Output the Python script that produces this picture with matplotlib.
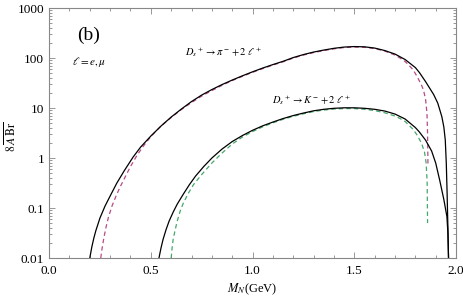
import numpy as np
import matplotlib
matplotlib.use('Agg')
import matplotlib.pyplot as plt
from matplotlib.ticker import MultipleLocator, LogLocator, FixedLocator, FixedFormatter, NullFormatter

plt.rcParams['font.family'] = ['Liberation Serif', 'DejaVu Serif']
plt.rcParams['mathtext.fontset'] = 'stix'

# D_s+ -> pi- + 2 l+, electron (solid); values as log10
m_pi_e = [0.20, 0.21, 0.22, 0.23, 0.25, 0.275, 0.30, 0.333, 0.37, 0.413, 0.45, 0.50, 0.55, 0.60,
          0.65, 0.70, 0.75, 0.80, 0.85, 0.90, 0.95, 1.00, 1.05, 1.10, 1.15, 1.20, 1.25, 1.30,
          1.35, 1.40, 1.45, 1.50, 1.55, 1.60, 1.65, 1.70, 1.75, 1.80, 1.82, 1.85, 1.87, 1.89,
          1.91, 1.93, 1.94, 1.947, 1.952, 1.956, 1.96, 1.963]
lg_pi_e = [-2.0, -1.78, -1.60, -1.45, -1.20, -0.96, -0.76, -0.50, -0.25, 0.02, 0.22, 0.44, 0.64, 0.82,
           0.98, 1.13, 1.26, 1.37, 1.47, 1.56, 1.645, 1.725, 1.80, 1.87, 1.935, 2.01, 2.07, 2.12,
           2.16, 2.195, 2.22, 2.23, 2.225, 2.20, 2.15, 2.08, 1.97, 1.81, 1.71, 1.53, 1.40, 1.27,
           1.10, 0.83, 0.62, 0.36, -0.1, -0.7, -1.4, -2.0]

# D_s+ -> pi- + 2 l+, muon (dashed)
m_pi_mu = [0.254, 0.26, 0.27, 0.28, 0.292, 0.31, 0.33, 0.35, 0.375, 0.40, 0.43, 0.46, 0.50, 0.55,
           0.60, 0.65, 0.70, 0.75, 0.80, 0.85, 0.90, 0.95, 1.00, 1.05, 1.10, 1.15, 1.20, 1.25,
           1.30, 1.35, 1.40, 1.45, 1.50, 1.55, 1.60, 1.65, 1.70, 1.725, 1.75, 1.77, 1.79, 1.81,
           1.83, 1.84, 1.85, 1.857, 1.86, 1.862]
lg_pi_mu = [-2.0, -1.82, -1.58, -1.38, -1.18, -0.95, -0.75, -0.57, -0.37, -0.17, 0.04, 0.22, 0.43, 0.64,
            0.81, 0.97, 1.11, 1.24, 1.35, 1.455, 1.55, 1.635, 1.715, 1.79, 1.86, 1.925, 2.0, 2.06,
            2.11, 2.15, 2.185, 2.21, 2.22, 2.215, 2.19, 2.14, 2.06, 2.0, 1.93, 1.85, 1.76, 1.62,
            1.46, 1.36, 1.18, 0.9, 0.5, -0.15]

# D_s+ -> K- + 2 l+, electron (solid)
m_k_e = [0.54, 0.55, 0.56, 0.575, 0.59, 0.61, 0.63, 0.66, 0.69, 0.72, 0.76, 0.80, 0.85, 0.90,
         0.95, 1.00, 1.05, 1.10, 1.15, 1.20, 1.25, 1.30, 1.35, 1.40, 1.45, 1.50, 1.55, 1.60,
         1.65, 1.70, 1.75, 1.80, 1.82, 1.85, 1.88, 1.90, 1.92, 1.94, 1.955, 1.96, 1.963]
lg_k_e = [-2.0, -1.80, -1.63, -1.43, -1.26, -1.08, -0.92, -0.72, -0.53, -0.36, -0.17, 0.0, 0.18, 0.33,
          0.45, 0.555, 0.645, 0.72, 0.79, 0.85, 0.90, 0.945, 0.975, 0.995, 1.005, 1.005, 0.995, 0.975,
          0.94, 0.88, 0.78, 0.61, 0.52, 0.36, 0.14, -0.1, -0.45, -0.83, -1.17, -1.5, -2.0]

# D_s+ -> K- + 2 l+, muon (dashed)
m_k_mu = [0.60, 0.605, 0.61, 0.62, 0.63, 0.645, 0.66, 0.685, 0.71, 0.75, 0.80, 0.85, 0.90, 0.95,
          1.00, 1.05, 1.10, 1.15, 1.20, 1.25, 1.30, 1.35, 1.40, 1.45, 1.50, 1.55, 1.60, 1.65,
          1.70, 1.725, 1.75, 1.79, 1.81, 1.83, 1.845, 1.853, 1.858, 1.86]
lg_k_mu = [-2.0, -1.78, -1.62, -1.43, -1.26, -1.05, -0.9, -0.70, -0.53, -0.33, -0.1, 0.10, 0.28, 0.42,
           0.53, 0.625, 0.705, 0.775, 0.835, 0.885, 0.93, 0.96, 0.98, 0.99, 0.99, 0.975, 0.95, 0.905,
           0.84, 0.79, 0.73, 0.57, 0.45, 0.3, 0.12, -0.1, -0.5, -1.3]

y_ticks = [0.01, 0.1, 1, 10, 100, 1000]
y_labels = ['0.01', '0.1', '1', '10', '100', '1000']
x_ticks = [0.0, 0.5, 1.0, 1.5, 2.0]
x_labels = ['0.0', '0.5', '1.0', '1.5', '2.0']

fig = plt.figure(figsize=(4.63, 2.99), dpi=100)
ax = fig.add_axes([0.106, 0.137, 0.879, 0.836])

ax.plot(m_pi_mu, 10**np.array(lg_pi_mu), color='#b84a86', lw=0.9, dashes=(3.5, 2.5))
ax.plot(m_k_mu, 10**np.array(lg_k_mu), color='#45a86a', lw=0.9, dashes=(3.5, 2.5))
ax.plot(m_pi_e, 10**np.array(lg_pi_e), color='black', lw=0.9)
ax.plot(m_k_e, 10**np.array(lg_k_e), color='black', lw=0.9)

ax.set_yscale('log')
ax.set_xlim(0, 2.0)
ax.set_ylim(0.01, 1000)

ax.xaxis.set_major_locator(FixedLocator(x_ticks))
ax.xaxis.set_major_formatter(FixedFormatter(x_labels))
ax.xaxis.set_minor_locator(MultipleLocator(0.1))
ax.yaxis.set_major_locator(FixedLocator(y_ticks))
ax.yaxis.set_major_formatter(FixedFormatter(y_labels))
ax.yaxis.set_minor_locator(LogLocator(base=10, subs=np.arange(2, 10)))
ax.yaxis.set_minor_formatter(NullFormatter())

for s in ax.spines.values():
    s.set_color('#888888')
    s.set_linewidth(0.8)
ax.tick_params(which='both', direction='in', top=True, right=True, color='#888888',
               labelsize=9.5, width=0.6)
ax.tick_params(which='major', length=4)
ax.tick_params(which='minor', length=2)
ax.tick_params(axis='x', pad=5)

ax.set_xlabel(r'$M_N$(GeV)', fontsize=9)
ax.xaxis.set_label_coords(0.499, -0.125)
ax.xaxis.label.set_va('center')
ax.set_ylabel(r'$8\,\overline{A\;\mathrm{Br}}$', fontsize=8.5)
ax.yaxis.set_label_coords(-0.093, 0.484)
ax.yaxis.label.set_va('center')

ax.text(0.098, 0.892, '(b)', transform=ax.transAxes, fontsize=14, ha='center', va='center')
ax.text(0.098, 0.784, r'$\ell = e,\mu$', transform=ax.transAxes, fontsize=8, ha='center', va='center')
ax.text(0.428, 0.824, r'$D_s{}^+ \rightarrow \pi^- + 2\;\ell^+$', transform=ax.transAxes,
        fontsize=7.5, ha='center', va='center')
ax.text(0.646, 0.632, r'$D_s{}^+ \rightarrow K^- + 2\;\ell^+$', transform=ax.transAxes,
        fontsize=7.5, ha='center', va='center')

fig.savefig('out.png', dpi=100)
